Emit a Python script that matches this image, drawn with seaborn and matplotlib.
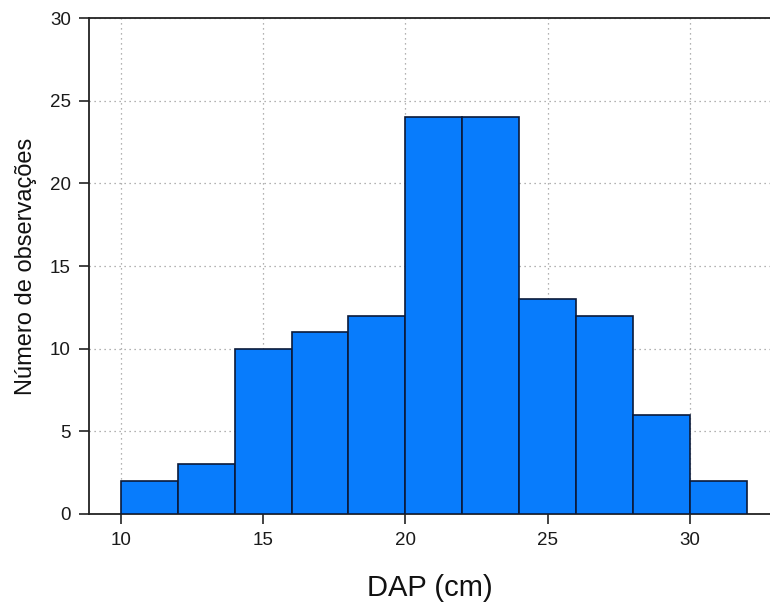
import matplotlib
matplotlib.use("Agg")
import matplotlib.pyplot as plt
import seaborn as sns
import pandas as pd

# ---------------------------------------------------------------------------
# Data: DAP classes (cm) and number of observations per class
# ---------------------------------------------------------------------------

bin_edges = [10, 12, 14, 16, 18, 20, 22, 24, 26, 28, 30, 32]
class_mid = [11, 13, 15, 17, 19, 21, 23, 25, 27, 29, 31]
counts = [2, 3, 10, 11, 12, 24, 24, 13, 12, 6, 2]

x_ticks = [10, 15, 20, 25, 30]
y_ticks = [0, 5, 10, 15, 20, 25, 30]

df = pd.DataFrame({'dap': class_mid, 'n': counts})

sns.set_theme(style="white")
plt.rcParams['font.family'] = ['Liberation Sans', 'DejaVu Sans']

fig = plt.figure(figsize=(7.7, 6.03), dpi=100, facecolor='white')
ax = fig.add_axes([0.1156, 0.1476, 0.8844, 0.8224])

sns.histplot(
    data=df, x='dap', weights='n', bins=bin_edges,
    color='#087cfc', edgecolor='#0b1a3a', linewidth=1.2, alpha=1.0,
    ax=ax, zorder=3
)

ax.set_xlim(8.88, 32.82)
ax.set_ylim(0, 30)
ax.set_xticks(x_ticks)
ax.set_yticks(y_ticks)
ax.grid(True, linestyle=(0, (1, 3)), color='#999999', linewidth=0.9, zorder=0)
ax.set_axisbelow(True)

for side in ['left', 'bottom', 'top']:
    ax.spines[side].set_color('#222222')
    ax.spines[side].set_linewidth(1.3)
ax.spines['right'].set_visible(False)

ax.tick_params(axis='both', which='major', direction='out', length=7,
               width=1.2, color='#222222', labelsize=13.5, labelcolor='#1a1a1a',
               bottom=True, left=True, pad=6)

ax.set_xlabel('DAP (cm)', fontsize=21, color='#111111', labelpad=18)
ax.set_ylabel('Número de observações', fontsize=17, color='#111111', labelpad=9)

plt.savefig('out.png', dpi=100, facecolor='white')
